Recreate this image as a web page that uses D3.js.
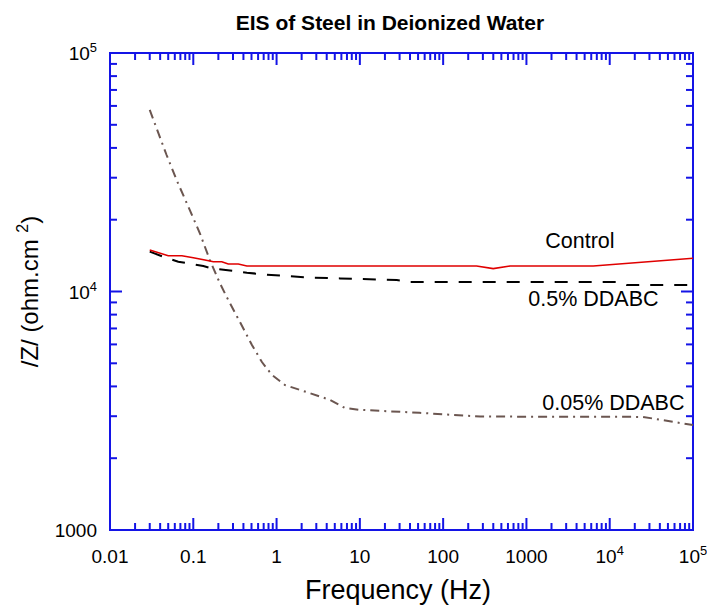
<!DOCTYPE html>
<html>
<head>
<meta charset="utf-8">
<script src="https://cdn.jsdelivr.net/npm/d3@7"></script>
<style>
  body { margin: 0; background: #fff; }
  text { font-family: "Liberation Sans", Arial, sans-serif; fill: #000; }
</style>
</head>
<body>
<svg id="chart" width="707" height="610"></svg>
<script>
// values
var freqControl = [0.03, 0.05, 0.073, 0.1, 0.138, 0.174, 0.22, 0.263, 0.347, 0.44, 252, 399, 634, 6340, 100000];
var zControl    = [14930, 14130, 14130, 13860, 13550, 13330, 13330, 13040, 13040, 12790, 12790, 12470, 12790, 12790, 13780];

var freqDdabc05 = [0.03, 0.0457, 0.066, 0.0957, 0.132, 0.166, 0.276, 0.44, 0.69, 1.32, 2.76, 5.77, 27.7, 39.9, 12100, 15960, 100000];
var zDdabc05    = [14690, 13910, 13330, 13040, 12790, 12510, 12240, 11990, 11800, 11610, 11420, 11350, 11170, 10960, 10960, 10640, 10640];

var freqDdabc005 = [0.03, 0.0478, 0.063, 0.087, 0.12, 0.158, 0.209, 0.263, 0.363, 0.506, 0.667, 0.88, 1.26, 2.5, 4.4, 6.6, 10, 52, 278, 25000, 100000];
var zDdabc005    = [57700, 37350, 29360, 22700, 17540, 13550, 10820, 9210, 7450, 5970, 5060, 4470, 4055, 3750, 3510, 3250, 3190, 3100, 2990, 2980, 2754];

var xTickValues = [0.01, 0.1, 1, 10, 100, 1000, 1e4, 1e5];
var xTickLabels = [["0.01"], ["0.1"], ["1"], ["10"], ["100"], ["1000"], ["10", "4"], ["10", "5"]];
var yTickValues = [1000, 1e4, 1e5];
var yTickLabels = [["1000"], ["10", "4"], ["10", "5"]];

var margin = {top: 53, left: 110, right: 14, bottom: 80};
var svg = d3.select("#chart");
var W = +svg.attr("width"), H = +svg.attr("height");
var innerW = W - margin.left - margin.right;
var innerH = H - margin.top - margin.bottom;
var x0 = margin.left, x1 = margin.left + innerW;
var y0 = margin.top + innerH, y1 = margin.top;

var x = d3.scaleLog().domain([0.01, 1e5]).range([x0, x1]);
var y = d3.scaleLog().domain([1000, 1e5]).range([y0, y1]);

var axisColor = "#1414e6";

function minorTicks(lo, hi) {
    var out = [];
    for (var p = lo; p < hi; p *= 10) {
        for (var k = 2; k <= 9; k++) out.push(p * k);
    }
    return out;
}
var xMinor = minorTicks(0.01, 1e5);
var yMinor = minorTicks(1000, 1e5);

// frame
svg.append("rect")
    .attr("x", x0).attr("y", y1).attr("width", innerW).attr("height", innerH)
    .attr("fill", "none").attr("stroke", axisColor).attr("stroke-width", 2);

// inward ticks on all four sides
var ticksG = svg.append("g").attr("stroke", axisColor).attr("stroke-width", 2);
function xTicks(vals, len) {
    vals.forEach(function(v) {
        var px = x(v);
        ticksG.append("line").attr("x1", px).attr("x2", px).attr("y1", y0).attr("y2", y0 - len);
        ticksG.append("line").attr("x1", px).attr("x2", px).attr("y1", y1).attr("y2", y1 + len);
    });
}
function yTicks(vals, len) {
    vals.forEach(function(v) {
        var py = y(v);
        ticksG.append("line").attr("x1", x0).attr("x2", x0 + len).attr("y1", py).attr("y2", py);
        ticksG.append("line").attr("x1", x1).attr("x2", x1 - len).attr("y1", py).attr("y2", py);
    });
}
xTicks(xMinor, 7);
xTicks(xTickValues, 12);
yTicks(yMinor, 7);
yTicks(yTickValues, 12);

// tick labels
function addLabel(sel, parts, size) {
    sel.append("tspan").text(parts[0]);
    if (parts[1]) {
        sel.append("tspan").attr("font-size", size * 0.68).attr("dy", -size * 0.42).text(parts[1]);
    }
}
xTickValues.forEach(function(v, i) {
    var t = svg.append("text")
        .attr("x", x(v)).attr("y", y0 + 33)
        .attr("text-anchor", "middle").attr("font-size", 19);
    addLabel(t, xTickLabels[i], 19);
});
yTickValues.forEach(function(v, i) {
    var t = svg.append("text")
        .attr("x", x0 - 13).attr("y", y(v) + 7)
        .attr("text-anchor", "end").attr("font-size", 19);
    addLabel(t, yTickLabels[i], 19);
});

// series
var line = d3.line().x(function(d) { return x(d[0]); }).y(function(d) { return y(d[1]); });
var series = [
    {f: freqDdabc005, z: zDdabc005, color: "#6b5650", width: 2, dash: "9,5,2,5"},
    {f: freqDdabc05, z: zDdabc05, color: "#000", width: 2, dash: "13,11"},
    {f: freqControl, z: zControl, color: "#e00000", width: 1.6, dash: null}
];
series.forEach(function(s) {
    svg.append("path")
        .datum(d3.zip(s.f, s.z))
        .attr("d", line)
        .attr("fill", "none")
        .attr("stroke", s.color)
        .attr("stroke-width", s.width)
        .attr("stroke-dasharray", s.dash);
});

// curve labels
svg.append("text").attr("x", x(4390)).attr("y", y(15200))
    .attr("text-anchor", "middle").attr("font-size", 21.5).text("Control");
svg.append("text").attr("x", x(6370)).attr("y", y(8690))
    .attr("text-anchor", "middle").attr("font-size", 21.5).text("0.5% DDABC");
svg.append("text").attr("x", x(11070)).attr("y", y(3185))
    .attr("text-anchor", "middle").attr("font-size", 21.5).text("0.05% DDABC");

// titles
svg.append("text").attr("x", 390).attr("y", 30)
    .attr("text-anchor", "middle").attr("font-size", 21).attr("font-weight", "bold")
    .text("EIS of Steel in Deionized Water");
svg.append("text").attr("x", 398).attr("y", 599)
    .attr("text-anchor", "middle").attr("font-size", 27).text("Frequency (Hz)");

var yl = svg.append("text")
    .attr("transform", "translate(38," + (margin.top + innerH / 2) + ") rotate(-90)")
    .attr("text-anchor", "middle").attr("font-size", 24);
yl.append("tspan").text("/Z/ (ohm.cm ");
yl.append("tspan").attr("font-size", 16).attr("dy", -10).text("2");
yl.append("tspan").attr("dy", 10).text(")");
</script>
</body>
</html>
